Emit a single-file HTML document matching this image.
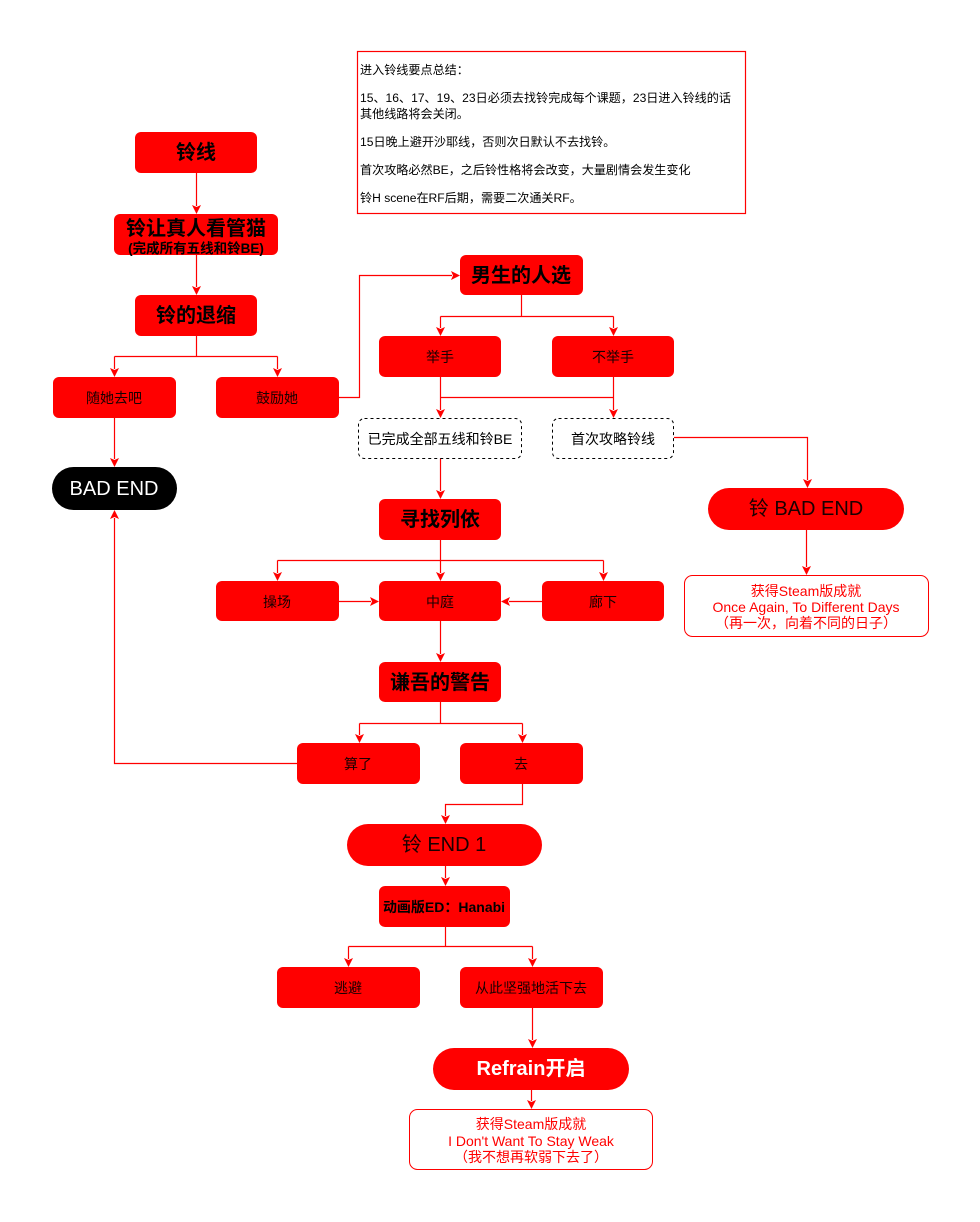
<!DOCTYPE html>
<html><head><meta charset="utf-8">
<style>
html,body{margin:0;padding:0;background:#fff;}
svg{display:block;}
text{font-family:"Liberation Sans","Noto Sans CJK SC",sans-serif;}
</style></head>
<body>
<svg width="980" height="1222" viewBox="0 0 980 1222" xmlns="http://www.w3.org/2000/svg">
<rect x="0" y="0" width="980" height="1222" fill="#fff"/>

<!-- notes box -->
<rect x="357.5" y="51.5" width="388" height="162" fill="#fff" stroke="#ff0000" stroke-width="1.2"/>
<g font-size="12.1" fill="#000" dominant-baseline="central">
<text x="360" y="70">进入铃线要点总结：</text>
<text x="360" y="98">15、16、17、19、23日必须去找铃完成每个课题，23日进入铃线的话</text>
<text x="360" y="114">其他线路将会关闭。</text>
<text x="360" y="142">15日晚上避开沙耶线，否则次日默认不去找铃。</text>
<text x="360" y="170">首次攻略必然BE，之后铃性格将会改变，大量剧情会发生变化</text>
<text x="360" y="198">铃H scene在RF后期，需要二次通关RF。</text>
</g>

<!-- connectors -->
<g stroke="#ff0000" stroke-width="1.2" fill="none">
<path d="M196.5,173 V206"/>
<path d="M196.5,255 V287"/>
<path d="M196.5,336 V356.5 M114.5,356.5 H277.5 M114.5,356.5 V369 M277.5,356.5 V369"/>
<path d="M114.5,418 V459"/>
<path d="M339,397.5 H359.5 V275.5 H452"/>
<path d="M521.5,295 V316.5 M440.5,316.5 H613.5 M440.5,316.5 V328 M613.5,316.5 V328"/>
<path d="M440.5,377 V397.5 M613.5,377 V397.5 M440.5,397.5 H613.5 M440.5,397.5 V410 M613.5,397.5 V410"/>
<path d="M440.5,458 V491"/>
<path d="M674,437.5 H807.5 V480"/>
<path d="M806.5,530 V567"/>
<path d="M440.5,540 V560.5 M277.5,560.5 H603.5 M277.5,560.5 V573 M440.5,560.5 V573 M603.5,560.5 V573"/>
<path d="M339,601.5 H371"/>
<path d="M542,601.5 H509"/>
<path d="M440.5,621 V654"/>
<path d="M440.5,702 V723.5 M359.5,723.5 H522.5 M359.5,723.5 V735 M522.5,723.5 V735"/>
<path d="M297,763.5 H114.5 V518"/>
<path d="M522.5,784 V804.5 H445.5 V816"/>
<path d="M445.5,866 V878"/>
<path d="M445.5,927 V946.5 M348.5,946.5 H532.5 M348.5,946.5 V959 M532.5,946.5 V959"/>
<path d="M532.5,1008 V1040"/>
<path d="M531.5,1090 V1101"/>
</g>

<!-- arrowheads -->
<g fill="#ff0000">
<path d="M196.5,214 l-4.5,-9 l4.5,2 l4.5,-2 z"/>
<path d="M196.5,295 l-4.5,-9 l4.5,2 l4.5,-2 z"/>
<path d="M114.5,377 l-4.5,-9 l4.5,2 l4.5,-2 z"/>
<path d="M277.5,377 l-4.5,-9 l4.5,2 l4.5,-2 z"/>
<path d="M114.5,467 l-4.5,-9 l4.5,2 l4.5,-2 z"/>
<path d="M440.5,336 l-4.5,-9 l4.5,2 l4.5,-2 z"/>
<path d="M613.5,336 l-4.5,-9 l4.5,2 l4.5,-2 z"/>
<path d="M440.5,418 l-4.5,-9 l4.5,2 l4.5,-2 z"/>
<path d="M613.5,418 l-4.5,-9 l4.5,2 l4.5,-2 z"/>
<path d="M440.5,499 l-4.5,-9 l4.5,2 l4.5,-2 z"/>
<path d="M807.5,488 l-4.5,-9 l4.5,2 l4.5,-2 z"/>
<path d="M806.5,575 l-4.5,-9 l4.5,2 l4.5,-2 z"/>
<path d="M277.5,581 l-4.5,-9 l4.5,2 l4.5,-2 z"/>
<path d="M440.5,581 l-4.5,-9 l4.5,2 l4.5,-2 z"/>
<path d="M603.5,581 l-4.5,-9 l4.5,2 l4.5,-2 z"/>
<path d="M440.5,662 l-4.5,-9 l4.5,2 l4.5,-2 z"/>
<path d="M359.5,743 l-4.5,-9 l4.5,2 l4.5,-2 z"/>
<path d="M522.5,743 l-4.5,-9 l4.5,2 l4.5,-2 z"/>
<path d="M445.5,824 l-4.5,-9 l4.5,2 l4.5,-2 z"/>
<path d="M445.5,886 l-4.5,-9 l4.5,2 l4.5,-2 z"/>
<path d="M348.5,967 l-4.5,-9 l4.5,2 l4.5,-2 z"/>
<path d="M532.5,967 l-4.5,-9 l4.5,2 l4.5,-2 z"/>
<path d="M532.5,1048 l-4.5,-9 l4.5,2 l4.5,-2 z"/>
<path d="M531.5,1109 l-4.5,-9 l4.5,2 l4.5,-2 z"/>
<path d="M460,275.5 l-9,-4.5 l2,4.5 l-2,4.5 z"/>
<path d="M379,601.5 l-9,-4.5 l2,4.5 l-2,4.5 z"/>
<path d="M501,601.5 l9,-4.5 l-2,4.5 l2,4.5 z"/>
<path d="M114.5,510 l-4.5,9 l4.5,-2 l4.5,2 z"/>
</g>

<!-- red boxes -->
<g fill="#ff0000">
<rect x="135" y="132" width="122" height="41" rx="6"/>
<rect x="114" y="214" width="164" height="41" rx="6"/>
<rect x="135" y="295" width="122" height="41" rx="6"/>
<rect x="53" y="377" width="123" height="41" rx="6"/>
<rect x="216" y="377" width="123" height="41" rx="6"/>
<rect x="460" y="255" width="123" height="40" rx="6"/>
<rect x="379" y="336" width="122" height="41" rx="6"/>
<rect x="552" y="336" width="122" height="41" rx="6"/>
<rect x="379" y="499" width="122" height="41" rx="6"/>
<rect x="216" y="581" width="123" height="40" rx="6"/>
<rect x="379" y="581" width="122" height="40" rx="6"/>
<rect x="542" y="581" width="122" height="40" rx="6"/>
<rect x="379" y="662" width="122" height="40" rx="6"/>
<rect x="297" y="743" width="123" height="41" rx="6"/>
<rect x="460" y="743" width="123" height="41" rx="6"/>
<rect x="379" y="886" width="131" height="41" rx="6"/>
<rect x="277" y="967" width="143" height="41" rx="6"/>
<rect x="460" y="967" width="143" height="41" rx="6"/>
<rect x="708" y="488" width="196" height="42" rx="21"/>
<rect x="347" y="824" width="195" height="42" rx="21"/>
<rect x="433" y="1048" width="196" height="42" rx="21"/>
</g>
<rect x="52" y="467" width="125" height="43" rx="21.5" fill="#000"/>

<!-- dashed boxes -->
<rect x="358.5" y="418.5" width="163" height="40" rx="6" fill="#fff" stroke="#000" stroke-width="1" stroke-dasharray="3,3"/>
<rect x="552.5" y="418.5" width="121" height="40" rx="6" fill="#fff" stroke="#000" stroke-width="1" stroke-dasharray="3,3"/>

<!-- steam boxes -->
<rect x="684.5" y="575.5" width="244" height="61" rx="8" fill="#fff" stroke="#ff0000" stroke-width="1"/>
<rect x="409.5" y="1109.5" width="243" height="60" rx="8" fill="#fff" stroke="#ff0000" stroke-width="1"/>

<!-- labels -->
<g text-anchor="middle" dominant-baseline="central">
<g font-size="20" font-weight="bold" fill="#000">
<text x="196" y="153">铃线</text>
<text x="196" y="316">铃的退缩</text>
<text x="521" y="276">男生的人选</text>
<text x="440" y="520">寻找列依</text>
<text x="440" y="683">谦吾的警告</text>
</g>
<text x="196" y="229" font-size="20" font-weight="bold" fill="#000">铃让真人看管猫</text>
<text x="196" y="248.5" font-size="13.5" font-weight="bold" fill="#000">(完成所有五线和铃BE)</text>

<g font-size="14" fill="#1a0000">
<text x="114" y="398">随她去吧</text>
<text x="277" y="398">鼓励她</text>
<text x="440" y="357">举手</text>
<text x="613" y="357">不举手</text>
<text x="277" y="602">操场</text>
<text x="440" y="602">中庭</text>
<text x="603" y="602">廊下</text>
<text x="358" y="764">算了</text>
<text x="521" y="764">去</text>
<text x="348" y="988">逃避</text>
<text x="531" y="988">从此坚强地活下去</text>
</g>
<g font-size="14" fill="#000">
<text x="440" y="439">已完成全部五线和铃BE</text>
<text x="613" y="439">首次攻略铃线</text>
</g>
<text x="444" y="907" font-size="14" font-weight="bold" fill="#000">动画版ED：Hanabi</text>

<text x="114" y="489" font-size="20" fill="#fff">BAD END</text>
<text x="806" y="509" font-size="20" fill="#1a0000">铃 BAD END</text>
<text x="444" y="845" font-size="20" fill="#1a0000">铃 END 1</text>
<text x="531" y="1069" font-size="20" font-weight="bold" fill="#fff">Refrain开启</text>

<g font-size="14" fill="#ff0000">
<text x="806" y="591">获得Steam版成就</text>
<text x="806" y="607">Once Again, To Different Days</text>
<text x="806" y="623">（再一次，向着不同的日子）</text>
<text x="531" y="1124">获得Steam版成就</text>
<text x="531" y="1141">I Don't Want To Stay Weak</text>
<text x="531" y="1157">（我不想再软弱下去了）</text>
</g>
</g>
</svg>
</body></html>
